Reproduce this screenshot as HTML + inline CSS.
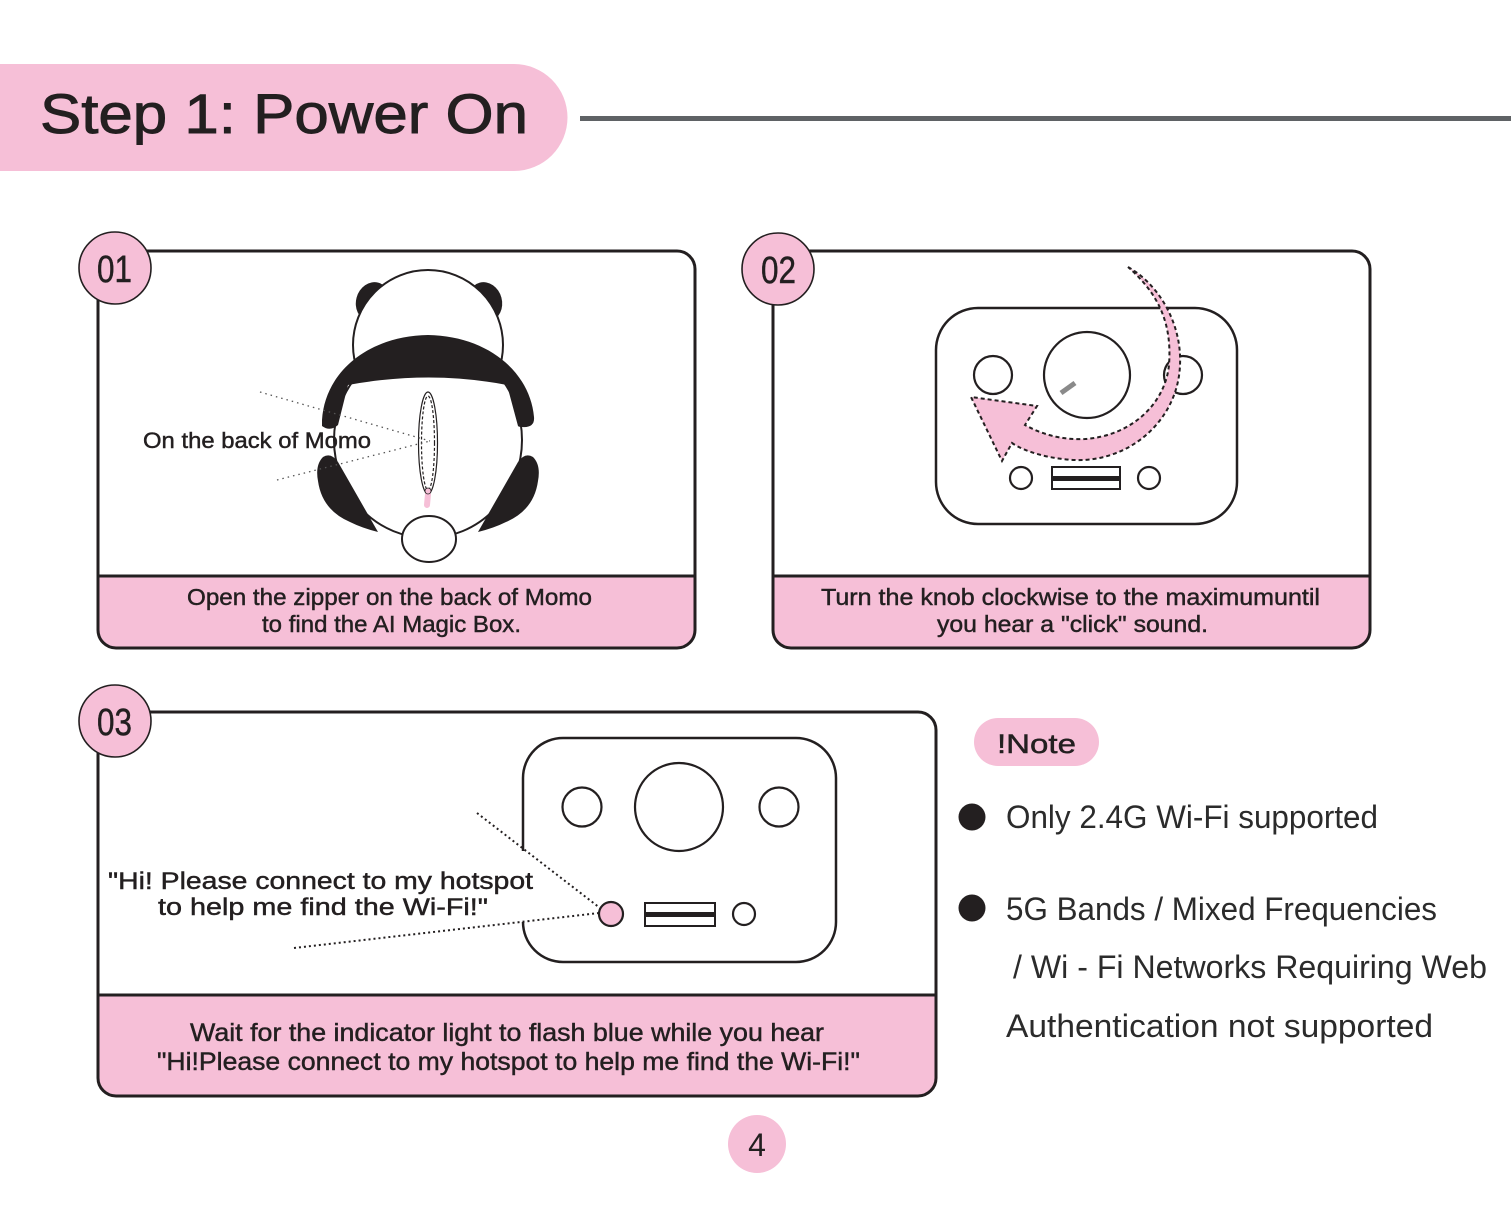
<!DOCTYPE html>
<html>
<head>
<meta charset="utf-8">
<style>
  html,body{margin:0;padding:0;background:#fff;}
  body{width:1511px;height:1209px;overflow:hidden;}
  svg{display:block;}
  text{font-family:"Liberation Sans","Noto Sans CJK SC",sans-serif;fill:#231f20;}
  .m{stroke:#231f20;stroke-width:0.45px;}
  .t{stroke:#231f20;stroke-width:0.9px;}
</style>
</head>
<body>
<svg width="1511" height="1209" viewBox="0 0 1511 1209" xmlns="http://www.w3.org/2000/svg">
  <!-- Header -->
  <path d="M0 64 H514 A53.5 53.5 0 0 1 514 171 H0 Z" fill="#f6bfd7"/>
  <text class="t" x="40" y="133" font-size="56" textLength="488" lengthAdjust="spacingAndGlyphs">Step 1: Power On</text>
  <rect x="580" y="116" width="931" height="5" fill="#5f6265"/>

  <!-- ============ Panel 01 ============ -->
  <path d="M98 576 H695 V630 A18 18 0 0 1 677 648 H116 A18 18 0 0 1 98 630 Z" fill="#f6bfd7"/>
  <rect x="98" y="251" width="597" height="397" rx="18" ry="18" fill="none" stroke="#231f20" stroke-width="3"/>
  <line x1="98" y1="576" x2="695" y2="576" stroke="#231f20" stroke-width="3"/>

  <!-- panda -->
  <ellipse cx="373" cy="302" rx="17" ry="20" transform="rotate(15 373 302)" fill="#231f20"/>
  <ellipse cx="485" cy="302" rx="17" ry="20" transform="rotate(-15 485 302)" fill="#231f20"/>
  <circle cx="428" cy="345" r="75" fill="#fff" stroke="#231f20" stroke-width="2"/>
  <ellipse cx="428" cy="440" rx="94" ry="98" fill="#fff" stroke="#231f20" stroke-width="2"/>
  <!-- shoulder band -->
  <path d="M322 420 C325 372 368 336 428 335 C488 336 530 372 534 417 Q535 428 522 427 Q519 427 518 426 L507 385 Q430 370 348 385 L338 425 Q330 432 322 426 Z" fill="#231f20"/>
  <!-- lower arms -->
  <path d="M378 532 L338 462 Q331 452 323 457 Q315 465 318 481 Q322 510 350 522 Q362 528 378 532 Z" fill="#231f20"/>
  <path d="M478 532 L518 462 Q525 452 533 457 Q541 465 538 481 Q534 510 506 522 Q494 528 478 532 Z" fill="#231f20"/>
  <!-- tail -->
  <ellipse cx="429" cy="539" rx="27" ry="23" fill="#fff" stroke="#231f20" stroke-width="2"/>
  <!-- zipper -->
  <ellipse cx="428" cy="443" rx="9.5" ry="51" fill="#fff" stroke="#231f20" stroke-width="1.2"/>
  <ellipse cx="428" cy="443" rx="6.5" ry="47" fill="none" stroke="#231f20" stroke-width="1.2" stroke-dasharray="3 2"/>
  <line x1="428" y1="494" x2="427" y2="505" stroke="#f6bfd7" stroke-width="6" stroke-linecap="round"/>
  <circle cx="428" cy="491" r="3" fill="#f6bfd7" stroke="#231f20" stroke-width="0.8"/>
  <!-- dotted pointers -->
  <line x1="260" y1="392" x2="430" y2="441" stroke="#555" stroke-width="1.3" stroke-dasharray="1.5 4"/>
  <line x1="277" y1="480" x2="430" y2="441" stroke="#555" stroke-width="1.3" stroke-dasharray="1.5 4"/>
  <text class="m" x="143" y="448" font-size="22" textLength="228" lengthAdjust="spacingAndGlyphs">On the back of Momo</text>

  <text class="m" x="187" y="605" font-size="23" textLength="405" lengthAdjust="spacingAndGlyphs">Open the zipper on the back of Momo</text>
  <text class="m" x="262" y="632" font-size="23" textLength="259" lengthAdjust="spacingAndGlyphs">to find the AI Magic Box.</text>

  <circle cx="115" cy="268" r="36" fill="#f6bfd7" stroke="#231f20" stroke-width="1.6"/>
  <text class="m" x="97" y="282" font-size="38" textLength="35" lengthAdjust="spacingAndGlyphs">01</text>

  <!-- ============ Panel 02 ============ -->
  <path d="M773 576 H1370 V630 A18 18 0 0 1 1352 648 H791 A18 18 0 0 1 773 630 Z" fill="#f6bfd7"/>
  <rect x="773" y="251" width="597" height="397" rx="18" ry="18" fill="none" stroke="#231f20" stroke-width="3"/>
  <line x1="773" y1="576" x2="1370" y2="576" stroke="#231f20" stroke-width="3"/>

  <rect x="936" y="308" width="301" height="216" rx="42" ry="42" fill="#fff" stroke="#231f20" stroke-width="2.5"/>
  <circle cx="993" cy="375" r="19" fill="none" stroke="#231f20" stroke-width="2.2"/>
  <circle cx="1087" cy="375" r="43" fill="none" stroke="#231f20" stroke-width="2.2"/>
  <line x1="1061" y1="393" x2="1075" y2="383" stroke="#8a8a8a" stroke-width="5"/>
  <circle cx="1183" cy="375" r="19" fill="none" stroke="#231f20" stroke-width="2.2"/>
  <circle cx="1021" cy="478" r="11" fill="none" stroke="#231f20" stroke-width="2.2"/>
  <circle cx="1149" cy="478" r="11" fill="none" stroke="#231f20" stroke-width="2.2"/>
  <rect x="1052" y="467" width="68" height="22" fill="#fff" stroke="#231f20" stroke-width="2"/>
  <rect x="1052" y="476" width="68" height="5" fill="#231f20"/>
  <!-- curved arrow -->
  <path d="M1128 267 C1160 285 1182 325 1180 365 C1178 420 1130 462 1075 460 C1050 459 1025 452 1012 443 L1002 461 L971 397 L1037 406 L1025 425 C1045 436 1065 440 1085 439 C1130 436 1165 405 1169 365 C1172 325 1160 295 1128 267 Z" fill="#f6bfd7" stroke="#231f20" stroke-width="2" stroke-dasharray="4 3"/>

  <text class="m" x="821" y="605" font-size="23" textLength="499" lengthAdjust="spacingAndGlyphs">Turn the knob clockwise to the maximumuntil</text>
  <text class="m" x="937" y="632" font-size="23" textLength="271" lengthAdjust="spacingAndGlyphs">you hear a "click" sound.</text>

  <circle cx="778" cy="269" r="36" fill="#f6bfd7" stroke="#231f20" stroke-width="1.6"/>
  <text class="m" x="761" y="283" font-size="38" textLength="35" lengthAdjust="spacingAndGlyphs">02</text>

  <!-- ============ Panel 03 ============ -->
  <path d="M98 995 H936 V1078 A18 18 0 0 1 918 1096 H116 A18 18 0 0 1 98 1078 Z" fill="#f6bfd7"/>
  <rect x="98" y="712" width="838" height="384" rx="18" ry="18" fill="none" stroke="#231f20" stroke-width="3"/>
  <line x1="98" y1="995" x2="936" y2="995" stroke="#231f20" stroke-width="3"/>

  <rect x="523" y="738" width="313" height="224" rx="40" ry="40" fill="#fff" stroke="#231f20" stroke-width="2.5"/>
  <circle cx="582" cy="807" r="19.5" fill="none" stroke="#231f20" stroke-width="2.2"/>
  <circle cx="679" cy="807" r="44" fill="none" stroke="#231f20" stroke-width="2.2"/>
  <circle cx="779" cy="807" r="19.5" fill="none" stroke="#231f20" stroke-width="2.2"/>
  <circle cx="611" cy="914" r="12" fill="#f6bfd7" stroke="#231f20" stroke-width="2.2"/>
  <rect x="645" y="903" width="70" height="23" fill="#fff" stroke="#231f20" stroke-width="2"/>
  <rect x="645" y="912" width="70" height="5" fill="#231f20"/>
  <circle cx="744" cy="914" r="11" fill="none" stroke="#231f20" stroke-width="2.2"/>
  <!-- mask edge behind quote -->
  <rect x="514" y="851" width="18" height="71" fill="#fff"/>
  <text class="m" x="108" y="889" font-size="24" textLength="425" lengthAdjust="spacingAndGlyphs">"Hi! Please connect to my hotspot</text>
  <text class="m" x="158" y="915" font-size="24" textLength="330" lengthAdjust="spacingAndGlyphs">to help me find the Wi-Fi!"</text>
  <line x1="477" y1="813" x2="600" y2="908" stroke="#231f20" stroke-width="2" stroke-dasharray="2 3"/>
  <line x1="294" y1="948" x2="599" y2="913" stroke="#231f20" stroke-width="2" stroke-dasharray="2 3"/>

  <text class="m" x="190" y="1041" font-size="25" textLength="634" lengthAdjust="spacingAndGlyphs">Wait for the indicator light to flash blue while you hear</text>
  <text class="m" x="157" y="1070" font-size="25" textLength="703" lengthAdjust="spacingAndGlyphs">"Hi!Please connect to my hotspot to help me find the Wi-Fi!"</text>

  <circle cx="115" cy="721" r="36" fill="#f6bfd7" stroke="#231f20" stroke-width="1.6"/>
  <text class="m" x="97" y="735" font-size="38" textLength="35" lengthAdjust="spacingAndGlyphs">03</text>

  <!-- ============ Note ============ -->
  <rect x="974" y="718" width="125" height="48" rx="24" ry="24" fill="#f6bfd7"/>
  <text class="m" x="997" y="753" font-size="27" textLength="79" lengthAdjust="spacingAndGlyphs">!Note</text>

  <circle cx="972" cy="817" r="13.5" fill="#231f20"/>
  <text x="1006" y="828" font-size="32" textLength="372" lengthAdjust="spacingAndGlyphs" style="fill:#2b2b2b">Only 2.4G Wi-Fi supported</text>
  <circle cx="972" cy="908" r="13.5" fill="#231f20"/>
  <text x="1006" y="920" font-size="32" textLength="431" lengthAdjust="spacingAndGlyphs" style="fill:#2b2b2b">5G Bands / Mixed Frequencies</text>
  <text x="1013" y="978" font-size="32" textLength="474" lengthAdjust="spacingAndGlyphs" style="fill:#2b2b2b">/ Wi - Fi Networks Requiring  Web</text>
  <text x="1006" y="1037" font-size="32" textLength="427" lengthAdjust="spacingAndGlyphs" style="fill:#2b2b2b">Authentication not supported</text>

  <!-- page number -->
  <circle cx="757" cy="1144" r="29" fill="#f6bfd7"/>
  <text x="757" y="1156" font-size="32" text-anchor="middle">4</text>
</svg>
</body>
</html>
